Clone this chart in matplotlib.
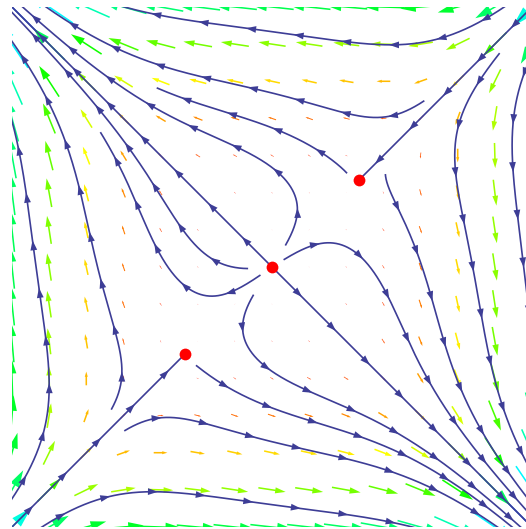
import numpy as np
import matplotlib.pyplot as plt
from matplotlib.colors import hsv_to_rgb
from matplotlib.patches import FancyArrow, Polygon

# phase portrait of x' = x - y^3, y' = y - x^3 on [-3, 3] x [-3, 3]
x_lim = (-3.0, 3.0)
y_lim = (-3.0, 3.0)
n_arrows = 15
fixed_x = [0.0, 1.0, -1.0]
fixed_y = [0.0, 1.0, -1.0]

# streamlines: one point on each line, plus how far it runs back / forward
# (None = until it leaves the box or reaches a fixed point)
seed_x = [0.035, -0.288, -0.023, -0.507, -0.02, 0.02, -1.084, -1.176,
          -1.984, -2.641, -2.0, 2.0, 1.684, 1.038, -0.023, 0.0,
          -0.173, -0.577, 2.803, 2.226]
seed_y = [2.711, 2.076, 1.615, 1.430, 0.02, -0.02, 0.507, -0.035,
          -0.115, -0.588, -2.0, 2.0, 0.138, 0.104, -1.188, -1.626,
          -1.972, -2.664, 0.865, 0.461]
back_len = [None, 2.13, 1.04, 1.61, 0.0, 0.0, 1.01, 1.21,
            1.58, None, None, None, 1.01, 0.99, 1.01, 1.01,
            1.59, None, None, 2.15]
fwd_len = [None, None, 1.38, None, None, None, None, 1.78,
           None, None, None, None, None, None, None, None,
           None, None, None, None]

stream_color = '#3d3d96'
px_per_unit = 86.7


def field(x, y):
    return x - y ** 3, y - x ** 3


def trace(x0, y0, direction, max_len):
    h = 0.6 / px_per_unit
    limit = 14.0 if max_len is None else max_len
    pts = [(x0, y0)]
    x, y = x0, y0

    def f(px, py):
        u, v = field(px, py)
        m = np.hypot(u, v)
        if m < 1e-9:
            return 0.0, 0.0
        return direction * u / m, direction * v / m

    s = 0.0
    while s < limit:
        k1 = f(x, y)
        k2 = f(x + h / 2 * k1[0], y + h / 2 * k1[1])
        k3 = f(x + h / 2 * k2[0], y + h / 2 * k2[1])
        k4 = f(x + h * k3[0], y + h * k3[1])
        x += h / 6 * (k1[0] + 2 * k2[0] + 2 * k3[0] + k4[0])
        y += h / 6 * (k1[1] + 2 * k2[1] + 2 * k3[1] + k4[1])
        s += h
        pts.append((x, y))
        if abs(x) > 3.08 or abs(y) > 3.08:
            break
        if min(np.hypot(x - a, y - b) for a, b in zip(fixed_x, fixed_y)) < 0.03:
            break
    return np.array(pts)


fig = plt.figure(figsize=(5.26, 5.29), dpi=100)
ax = fig.add_axes([12 / 526, 2 / 529, 520 / 526, 520 / 529])
ax.set_xlim(*x_lim)
ax.set_ylim(*y_lim)
ax.axis('off')

# coloured vector arrows, length and hue follow the magnitude
gx = np.linspace(x_lim[0], x_lim[1], n_arrows)
gy = np.linspace(y_lim[0], y_lim[1], n_arrows)
GX, GY = np.meshgrid(gx, gy)
U, V = field(GX, GY)
M = np.hypot(U, V)
m_max = M.max()
for x, y, u, v, m in zip(GX.ravel(), GY.ravel(), U.ravel(), V.ravel(), M.ravel()):
    if m < 1e-9:
        continue
    L = 0.0185 * m
    dx, dy = u / m * L, v / m * L
    col = hsv_to_rgb((0.6 * m / m_max, 1, 1))
    ax.add_patch(FancyArrow(x - dx / 2, y - dy / 2, dx, dy,
                            width=min(0.018, 0.12 * L), head_width=0.22 * L,
                            head_length=0.38 * L, length_includes_head=True,
                            color=col, lw=0, zorder=1))

# streamlines with arrowheads every ~48 px
head_len = 10 / px_per_unit
head_w = 3.4 / px_per_unit
for sx, sy, bl, fl in zip(seed_x, seed_y, back_len, fwd_len):
    parts = [trace(sx, sy, 1, fl)]
    if bl is None or bl > 0:
        back = trace(sx, sy, -1, bl)
        parts.insert(0, back[::-1][:-1])
    seg = np.vstack(parts)
    ax.plot(seg[:, 0], seg[:, 1], color=stream_color, lw=1.2, zorder=2,
            solid_capstyle='butt')
    d = np.diff(seg, axis=0)
    ds = np.hypot(d[:, 0], d[:, 1]) * px_per_unit
    s = np.concatenate([[0], np.cumsum(ds)])
    for p in np.arange(40, s[-1] - 6, 48):
        i = min(max(np.searchsorted(s, p), 1), len(seg) - 1)
        t = (p - s[i - 1]) / max(ds[i - 1], 1e-9)
        pt = seg[i - 1] + t * d[i - 1]
        dirv = d[i - 1] / np.hypot(*d[i - 1])
        nrm = np.array([-dirv[1], dirv[0]])
        base = pt - dirv * head_len
        ax.add_patch(Polygon([pt, base + nrm * head_w, base - nrm * head_w],
                             closed=True, color=stream_color, lw=0, zorder=3))

ax.scatter(fixed_x, fixed_y, s=72, color='#ff0000', zorder=4, lw=0)

fig.savefig('out.png', dpi=100)
